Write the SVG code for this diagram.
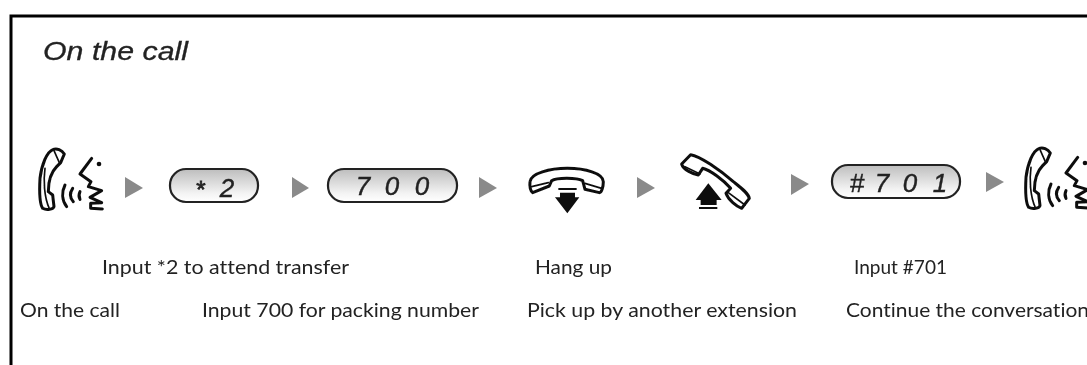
<svg xmlns="http://www.w3.org/2000/svg" width="1087" height="365" viewBox="0 0 1087 365">
<style>
.lbl{font-family:Lato,"Noto Sans",sans-serif;font-size:19px;fill:#222;font-variant-ligatures:none}
.key{font-family:"Liberation Sans",Arial,sans-serif;font-style:italic;font-size:26px;fill:#222;stroke:#222;stroke-width:.4}
.pill{fill:url(#pg);stroke:#222;stroke-width:2.2}
.ln{fill:none;stroke:#111;stroke-linejoin:round;stroke-linecap:round}
.t9{stroke-width:9}
.t5{stroke-width:5}
.arr{fill:#8a8a8a}
.dark{fill:#0c0c0c}
</style>
<defs>
<filter id="soft" x="-2%" y="-2%" width="104%" height="104%"><feGaussianBlur stdDeviation="0.4"/></filter>
<linearGradient id="pg" x1="0" y1="0" x2="0" y2="1"><stop offset="0" stop-color="#bdbdbd"/><stop offset="0.75" stop-color="#f4f4f4"/><stop offset="1" stop-color="#fff"/></linearGradient>
<g id="talk" transform="translate(30,140) scale(.3333)">
<path class="ln t9" d="M70,28C50,35 35,75 30,115C28,150 28,190 38,205C50,212 70,208 72,200L68,165L55,155C55,120 65,95 80,80L92,68L103,42C95,30 80,24 70,28Z"/>
<path class="ln t5" d="M72,32L88,68M45,85C40,120 42,170 58,206"/>
<path class="ln t9" d="M105,135C95,155 95,180 110,200M128,145C118,160 118,172 130,185M150,155C146,163 146,170 150,178"/>
<path class="ln t9" d="M185,55L150,102L183,125L175,140L215,152L180,172L215,188L182,190L182,205L217,207"/>
<circle cx="207" cy="72" r="7" fill="#111"/>
</g>
</defs>
<rect width="1087" height="365" fill="#fff"/>
<g filter="url(#soft)">
<path d="M11,365V16H1087" fill="none" stroke="#000" stroke-width="3"/>
<text x="43" y="60" font-family="Liberation Sans, Arial, sans-serif" font-style="italic" font-size="25" fill="#222" stroke="#222" stroke-width=".3" textLength="145" lengthAdjust="spacingAndGlyphs">On the call</text>

<g id="connectors">
<polygon class="arr" points="125,177 143,188 125,198"/>
<polygon class="arr" points="292,177 309,188 292,198"/>
<polygon class="arr" points="479,177 497,188 479,198"/>
<polygon class="arr" points="637,177 655,188 637,198"/>
<polygon class="arr" points="791,174 809,184 791,195"/>
<polygon class="arr" points="986,172 1004,182 986,192"/>
</g>

<g id="node-talk-1"><use href="#talk"/><text class="lbl" x="20" y="317" textLength="100" lengthAdjust="spacingAndGlyphs">On the call</text></g>
<g id="node-key-star2">
<rect class="pill" x="170" y="169" width="88" height="33" rx="16"/>
<text class="key" x="200" y="198" text-anchor="middle" style="font-size:24px;stroke-width:.8">*</text><text class="key" x="227" y="197" text-anchor="middle">2</text>
<text class="lbl" x="102" y="274" textLength="247" lengthAdjust="spacingAndGlyphs">Input *2 to attend transfer</text>
</g>
<g id="node-key-700">
<rect class="pill" x="328" y="169" width="129" height="33" rx="16"/>
<text class="key" x="363 392 422" y="195" text-anchor="middle">700</text>
<text class="lbl" x="202" y="317" textLength="277" lengthAdjust="spacingAndGlyphs">Input 700 for packing number</text>
</g>
<g id="node-hangup">
<g transform="translate(520,150) scale(.3333)">
<path class="ln t9" d="M30,95C32,70 90,55 142,55C195,55 250,70 250,95C250,110 245,128 238,128L195,118L188,92C170,82 110,82 95,92L88,108L38,128C32,125 28,110 30,95Z"/>
<path class="ln t5" d="M35,110L85,98M195,100L245,115"/>
<rect class="dark" x="115" y="114" width="55" height="6"/>
<polygon class="dark" points="120,128 165,128 165,142 178,142 142,190 105,142 120,142"/>
</g>
<text class="lbl" x="535" y="274" textLength="77" lengthAdjust="spacingAndGlyphs">Hang up</text>
</g>
<g id="node-pickup">
<g transform="translate(520,150) scale(.3333)">
<path class="ln t9" d="M485,42L512,14C540,18 600,60 640,95C665,115 685,130 688,145L665,175C650,170 625,150 618,130L632,115C610,90 570,60 548,55L535,75C520,72 490,60 485,42Z"/>
<path class="ln t5" d="M495,50L540,72M625,128L675,165"/>
<polygon class="dark" points="565,100 605,150 590,150 590,165 542,165 542,150 527,150"/>
<rect class="dark" x="537" y="171" width="55" height="6"/>
</g>
<text class="lbl" x="527" y="317" textLength="270" lengthAdjust="spacingAndGlyphs">Pick up by another extension</text>
</g>
<g id="node-key-701">
<rect class="pill" x="832" y="165" width="128" height="33" rx="16"/>
<text class="key" x="857 882 910 940" y="192" text-anchor="middle">#701</text>
<text class="lbl" x="854" y="274" textLength="93" lengthAdjust="spacingAndGlyphs">Input #701</text>
</g>
<g id="node-talk-2"><use href="#talk" x="986" y="-1"/><text class="lbl" x="846" y="317" textLength="243" lengthAdjust="spacingAndGlyphs">Continue the conversation</text></g>
</g>
</svg>
